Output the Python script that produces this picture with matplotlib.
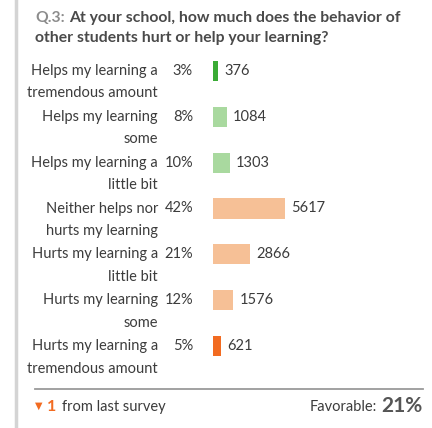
import matplotlib.pyplot as plt
from matplotlib.transforms import blended_transform_factory
from matplotlib.lines import Line2D

labels = ["Helps my learning a\ntremendous amount", "Helps my learning\nsome",
          "Helps my learning a\nlittle bit", "Neither helps nor\nhurts my learning",
          "Hurts my learning a\nlittle bit", "Hurts my learning\nsome",
          "Hurts my learning a\ntremendous amount"]
percents = ["3%", "8%", "10%", "42%", "21%", "12%", "5%"]
counts = [376, 1084, 1303, 5617, 2866, 1576, 621]
colors = ["#3aab35", "#a9d99f", "#a9d99f", "#f6c096", "#f6c096", "#f6c096", "#f26b21"]

W, H = 432, 428
plt.rcParams['font.family'] = ['Lato', 'DejaVu Sans']
fig = plt.figure(figsize=(W / 100, H / 100), dpi=100)
fig.patch.set_facecolor('white')
TXT = '#3c3c3c'
FS = 10.5


def fx(px):
    return px / W


def fy(py):
    return 1 - py / H


# left border line
fig.add_artist(Line2D([fx(16), fx(16)], [0, 1], color='#d4d4d4', lw=2.5))

# title
q = fig.text(fx(35), fy(18), "Q.3:", color='#8c8c8c', fontsize=11.3, fontweight='bold', va='center')
fig.canvas.draw()
qx = q.get_window_extent().x1 + 4
fig.text(qx / W, fy(18), "At your school, how much does the behavior of",
         color='#4a4a4a', fontsize=11.3, fontweight='bold', va='center')
fig.text(fx(35), fy(38), "other students hurt or help your learning?",
         color='#4a4a4a', fontsize=11.3, fontweight='bold', va='center')

# bar axes
ax = fig.add_axes([fx(213), fy(369), fx(418) - fx(213), (369 - 48) / H])
ax.barh(range(len(counts)), counts, height=0.44, color=colors)
ax.set_xlim(0, 16000)
ax.set_ylim(6.5, -0.5)
ax.axis('off')

trans = blended_transform_factory(fig.transFigure, ax.transData)
line_gap = 22.5 / 45.8
for i, (lab, pct, c) in enumerate(zip(labels, percents, counts)):
    for j, part in enumerate(lab.split("\n")):
        ax.text(fx(158), i + j * line_gap, part, transform=trans, ha='right', va='center',
                fontsize=FS, color=TXT)
    ax.text(fx(193), i, pct, transform=trans, ha='right', va='center',
            fontsize=FS, color=TXT)
    ax.annotate(str(c), (c, i), xytext=(4.5, 0), textcoords='offset points',
                ha='left', va='center', fontsize=FS, color=TXT)

# separator
fig.add_artist(Line2D([fx(35), fx(423)], [fy(389), fy(389)], color='#9a9a9a', lw=1.3))

# footer
fig.text(fx(35), fy(406), "\u25bc", color='#f26b21', fontsize=7, va='center',
         family='DejaVu Sans')
fig.text(fx(47), fy(407), "1", color='#f26b21', fontsize=11.5, fontweight='bold', va='center')
fig.text(fx(62), fy(407), "from last survey", color=TXT, fontsize=FS, va='center')
big = fig.text(fx(423), fy(406), "21%", color='#555555', fontsize=15, fontweight='bold',
               va='center', ha='right')
fig.canvas.draw()
bx = big.get_window_extent().x0 - 5
fig.text(bx / W, fy(407), "Favorable:", color=TXT, fontsize=FS, va='center',
         ha='right')

fig.savefig("out.png", dpi=100, facecolor='white')
